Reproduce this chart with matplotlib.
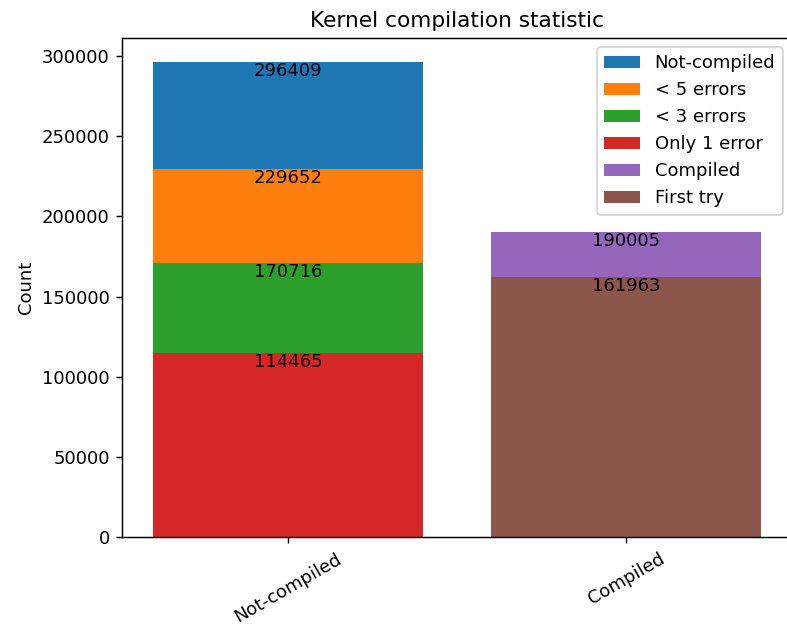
import matplotlib
matplotlib.use("Agg")
import matplotlib.pyplot as plt

groups = ["Not-compiled", "Compiled"]
# each bar drawn from zero, overlapping within its group
not_compiled_labels = ["Not-compiled", "< 5 errors", "< 3 errors", "Only 1 error"]
not_compiled_vals = [296409, 229652, 170716, 114465]
compiled_labels = ["Compiled", "First try"]
compiled_vals = [190005, 161963]

DPI = 130
fig = plt.figure(figsize=(787 / DPI, 628 / DPI), dpi=DPI)
ax = fig.add_axes([122.4 / 787, 91 / 628, 669.2 / 787, 499 / 628])

for lab, v in zip(not_compiled_labels, not_compiled_vals):
    ax.bar(groups[0], v, label=lab)
    ax.text(0, v, str(v), ha="center", va="top")

for lab, v in zip(compiled_labels, compiled_vals):
    ax.bar(groups[1], v, label=lab)
    ax.text(1, v, str(v), ha="center", va="top")

ax.set_ylabel("Count")
ax.set_title("Kernel compilation statistic")
ax.legend(loc="upper right")
plt.setp(ax.get_xticklabels(), rotation=30)

fig.savefig("out.png", dpi=DPI)
